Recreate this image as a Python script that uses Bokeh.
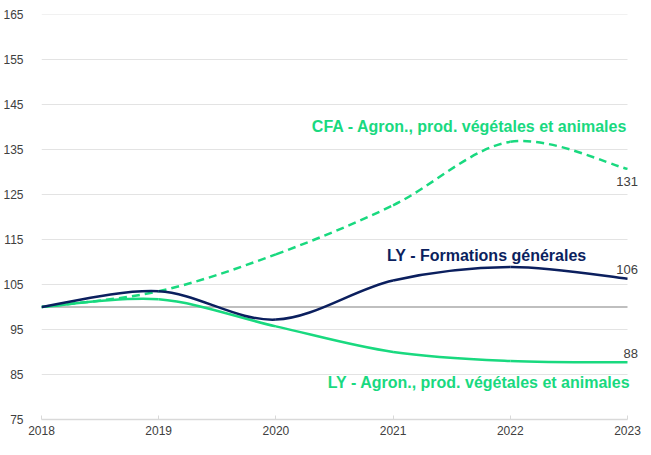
from bokeh.plotting import figure
from bokeh.models import FixedTicker, Range1d, Label
from bokeh.embed import file_html
from bokeh.resources import INLINE

years = [2018, 2019, 2020, 2021, 2022, 2023]
ly_gen = [100, 103.5, 97.2, 105.9, 108.9, 106.3]
cfa_agro = [100, 103.5, 111.7, 122.6, 136.7, 130.7]
ly_agro = [100, 101.7, 95.7, 90.0, 88.0, 87.7]
y_ticks = [75, 85, 95, 105, 115, 125, 135, 145, 155, 165]
base_value = 100
end_labels = ["131", "106", "88"]
series_names = ["CFA - Agron., prod. végétales et animales",
                "LY - Formations générales",
                "LY - Agron., prod. végétales et animales"]

GREEN = "#19D97F"
NAVY = "#0B1F5E"
FONT = "Liberation Sans"

p = figure(width=643, height=439, output_backend="svg", toolbar_location=None,
           x_range=Range1d(years[0], 2023.128), y_range=Range1d(75, 165),
           min_border_left=40, min_border_right=1, min_border_top=14, min_border_bottom=20)
p.outline_line_color = None
p.background_fill_color = "white"

p.yaxis.ticker = FixedTicker(ticks=y_ticks)
p.xaxis.ticker = FixedTicker(ticks=years)
p.yaxis.axis_line_color = None
p.yaxis.major_tick_line_color = None
p.yaxis.minor_tick_line_color = None
p.yaxis.major_label_text_font = FONT
p.yaxis.major_label_text_font_size = "12px"
p.yaxis.major_label_text_color = "#404040"
p.yaxis.major_label_standoff = 12
p.xaxis.bounds = (years[0], years[-1])
p.xaxis.axis_line_color = "#D9D9D9"
p.xaxis.axis_line_width = 1.5
p.xaxis.major_tick_line_color = "#D9D9D9"
p.xaxis.major_tick_in = 4
p.xaxis.major_tick_out = 0
p.xaxis.minor_tick_line_color = None
p.xaxis.major_label_text_font = FONT
p.xaxis.major_label_text_font_size = "12px"
p.xaxis.major_label_text_color = "#404040"
p.xaxis.major_label_standoff = 6
p.xgrid.grid_line_color = None
p.ygrid.grid_line_color = None

# horizontal grid lines limited to the data span
grid_vals = [t for t in y_ticks if t != y_ticks[0]]
p.segment(x0=[years[0]] * len(grid_vals), x1=[years[-1]] * len(grid_vals),
          y0=grid_vals, y1=grid_vals, line_color="#E3E3E3", line_width=1)
# base 100 reference line
p.segment(x0=[years[0]], x1=[years[-1]], y0=[base_value], y1=[base_value],
          line_color="#BFBFBF", line_width=2)


def bezier_parts(xs, ys):
    n = len(xs)
    x0, y0, x1, y1, cx0, cy0, cx1, cy1 = [], [], [], [], [], [], [], []
    for i in range(n - 1):
        im1 = max(i - 1, 0)
        ip2 = min(i + 2, n - 1)
        x0.append(xs[i]); y0.append(ys[i])
        x1.append(xs[i + 1]); y1.append(ys[i + 1])
        cx0.append(xs[i] + (xs[i + 1] - xs[im1]) / 6)
        cy0.append(ys[i] + (ys[i + 1] - ys[im1]) / 6)
        cx1.append(xs[i + 1] - (xs[ip2] - xs[i]) / 6)
        cy1.append(ys[i + 1] - (ys[ip2] - ys[i]) / 6)
    return dict(x0=x0, y0=y0, x1=x1, y1=y1, cx0=cx0, cy0=cy0, cx1=cx1, cy1=cy1)


p.bezier(source=bezier_parts(years, ly_agro), x0="x0", y0="y0", x1="x1", y1="y1",
         cx0="cx0", cy0="cy0", cx1="cx1", cy1="cy1", line_color=GREEN, line_width=2.5)
p.bezier(source=bezier_parts(years, cfa_agro), x0="x0", y0="y0", x1="x1", y1="y1",
         cx0="cx0", cy0="cy0", cx1="cx1", cy1="cy1", line_color=GREEN, line_width=2.5,
         line_dash="8 5")
p.bezier(source=bezier_parts(years, ly_gen), x0="x0", y0="y0", x1="x1", y1="y1",
         cx0="cx0", cy0="cy0", cx1="cx1", cy1="cy1", line_color=NAVY, line_width=2.5)

name_pos = [(2023.0, 140.2, GREEN), (2022.65, 111.5, NAVY), (2023.025, 83.3, GREEN)]
for name, (lx, ly, col) in zip(series_names, name_pos):
    p.add_layout(Label(x=lx, y=ly, text=name, text_color=col, text_align="right",
                       text_baseline="middle", text_font=FONT, text_font_style="bold",
                       text_font_size="16px"))

val_pos = [(2023.09, 127.8), (2023.09, 108.3), (2023.09, 89.6)]
for lab, (lx, ly) in zip(end_labels, val_pos):
    p.add_layout(Label(x=lx, y=ly, text=lab, text_color="#404040", text_align="right",
                       text_baseline="middle", text_font=FONT, text_font_size="13px"))

open("out.html", "w").write(file_html(p, INLINE))
